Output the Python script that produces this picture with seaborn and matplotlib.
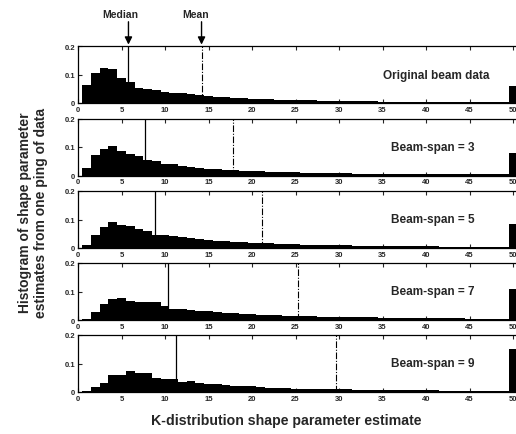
import numpy as np
import pandas as pd
import matplotlib
matplotlib.use("Agg")
import matplotlib.pyplot as plt
import seaborn as sns

# ---- data ----
bin_centers = list(range(1, 51))
panel_labels = ["Original beam data", "Beam-span = 3", "Beam-span = 5", "Beam-span = 7", "Beam-span = 9"]

original = [0.062, 0.104, 0.122, 0.121, 0.086, 0.072, 0.052, 0.048, 0.044, 0.040,
            0.036, 0.034, 0.030, 0.027, 0.024, 0.022, 0.020, 0.018, 0.017, 0.015,
            0.014, 0.013, 0.012, 0.011, 0.010, 0.010, 0.009, 0.008, 0.008, 0.007,
            0.007, 0.006, 0.006, 0.006, 0.005, 0.005, 0.005, 0.005, 0.004, 0.004,
            0.004, 0.004, 0.004, 0.003, 0.003, 0.003, 0.003, 0.003, 0.003, 0.060]
span3 = [0.025, 0.073, 0.092, 0.102, 0.085, 0.077, 0.068, 0.056, 0.052, 0.041,
         0.039, 0.034, 0.031, 0.027, 0.024, 0.022, 0.020, 0.018, 0.017, 0.016,
         0.015, 0.014, 0.013, 0.012, 0.011, 0.010, 0.010, 0.009, 0.009, 0.008,
         0.008, 0.007, 0.007, 0.007, 0.006, 0.006, 0.006, 0.005, 0.005, 0.005,
         0.005, 0.005, 0.004, 0.004, 0.004, 0.004, 0.004, 0.004, 0.004, 0.080]
span5 = [0.012, 0.046, 0.075, 0.090, 0.080, 0.078, 0.066, 0.060, 0.047, 0.045,
         0.041, 0.038, 0.036, 0.032, 0.029, 0.026, 0.023, 0.021, 0.020, 0.018,
         0.017, 0.016, 0.015, 0.014, 0.013, 0.012, 0.011, 0.011, 0.010, 0.009,
         0.009, 0.008, 0.008, 0.008, 0.007, 0.007, 0.007, 0.006, 0.006, 0.006,
         0.006, 0.005, 0.005, 0.005, 0.005, 0.005, 0.005, 0.004, 0.004, 0.085]
span7 = [0.005, 0.027, 0.055, 0.072, 0.077, 0.065, 0.062, 0.062, 0.062, 0.048,
         0.040, 0.038, 0.035, 0.033, 0.031, 0.028, 0.025, 0.023, 0.021, 0.020,
         0.019, 0.018, 0.016, 0.015, 0.014, 0.013, 0.013, 0.012, 0.011, 0.011,
         0.010, 0.010, 0.009, 0.009, 0.008, 0.008, 0.008, 0.007, 0.007, 0.007,
         0.006, 0.006, 0.006, 0.006, 0.005, 0.005, 0.005, 0.005, 0.005, 0.110]
span9 = [0.003, 0.018, 0.032, 0.060, 0.058, 0.075, 0.068, 0.066, 0.050, 0.047,
         0.045, 0.036, 0.038, 0.033, 0.028, 0.027, 0.025, 0.022, 0.020, 0.022,
         0.017, 0.013, 0.015, 0.014, 0.012, 0.011, 0.011, 0.010, 0.010, 0.009,
         0.009, 0.008, 0.008, 0.008, 0.007, 0.007, 0.007, 0.006, 0.006, 0.006,
         0.006, 0.005, 0.005, 0.005, 0.005, 0.005, 0.005, 0.005, 0.004, 0.150]
series = [original, span3, span5, span7, span9]
medians = [5.8, 7.7, 8.9, 10.3, 11.3]
means = [14.2, 17.8, 21.1, 25.3, 29.6]
x_ticks = [0, 5, 10, 15, 20, 25, 30, 35, 40, 45, 50]
y_ticks = [0, 0.1, 0.2]
y_tick_labels = ["0", "0.1", "0.2"]

# ---- style ----
sns.set_style("ticks")
plt.rcParams["font.family"] = ["Liberation Sans", "DejaVu Sans"]

W, H = 516, 435
fig = plt.figure(figsize=(W / 100, H / 100), dpi=100)

left_px = 78
px_per_unit = 8.7
xmax = 51
width_px = xmax * px_per_unit
height_px = 57
tops_px = [47, 119.5, 192, 264, 336]

axes = []
for i, (vals, lab) in enumerate(zip(series, panel_labels)):
    top = tops_px[i]
    ax = fig.add_axes([left_px / W, 1 - (top + height_px) / H, width_px / W, height_px / H])
    df = pd.DataFrame({"k": bin_centers, "frac": vals})
    sns.histplot(data=df, x="k", weights="frac", binwidth=1, binrange=(0.5, 50.5),
                 stat="count", color="black", edgecolor="black", linewidth=0,
                 alpha=1, ax=ax)
    ax.set_xlim(0, xmax)
    ax.set_ylim(0, 0.2)
    ax.axvline(medians[i], color="black", lw=0.9, ls="-")
    ax.axvline(means[i], color="black", lw=0.8, ls=(0, (6, 1.5, 1, 1.5)))
    ax.set_xticks(x_ticks)
    ax.set_xticklabels([str(t) for t in x_ticks], fontsize=5.5, fontweight="bold")
    ax.set_yticks(y_ticks)
    ax.set_yticklabels(y_tick_labels, fontsize=5.5, fontweight="bold")
    ax.tick_params(direction="in", length=3, width=0.8, top=True, right=False, pad=2)
    ax.set_xlabel("")
    ax.set_ylabel("")
    for s in ax.spines.values():
        s.set_linewidth(0.9)
        s.set_color("black")
    if i == 0:
        ax.text(47.3, 0.1, lab, ha="right", va="center", fontsize=8.5, fontweight="bold")
    else:
        ax.text(40.8, 0.1, lab, ha="center", va="center", fontsize=8.5, fontweight="bold")
    axes.append(ax)

# Median / Mean annotations on top panel (vertical arrows)
top_ax = axes[0]
for xval, txt, dx in [(medians[0], "Median", -0.9), (means[0], "Mean", -0.7)]:
    top_ax.annotate("", xy=(xval, 0.2), xycoords="data",
                    xytext=(xval, 0.2 + 0.085), textcoords="data",
                    annotation_clip=False,
                    arrowprops=dict(arrowstyle="-|>", color="black", lw=1.0,
                                    mutation_scale=11, shrinkA=0, shrinkB=1))
    top_ax.text(xval + dx, 0.2 + 0.095, txt, ha="center", va="bottom",
                fontsize=7.5, fontweight="bold", clip_on=False)

fig.text(33 / W, 1 - 213 / H, "Histogram of shape parameter\nestimates from one ping of data",
         rotation=90, ha="center", va="center", fontsize=10, fontweight="bold",
         linespacing=1.2)
fig.text(286 / W, 1 - 421 / H, "K-distribution shape parameter estimate",
         ha="center", va="center", fontsize=10.2, fontweight="bold")

fig.savefig("out.png", dpi=100)
